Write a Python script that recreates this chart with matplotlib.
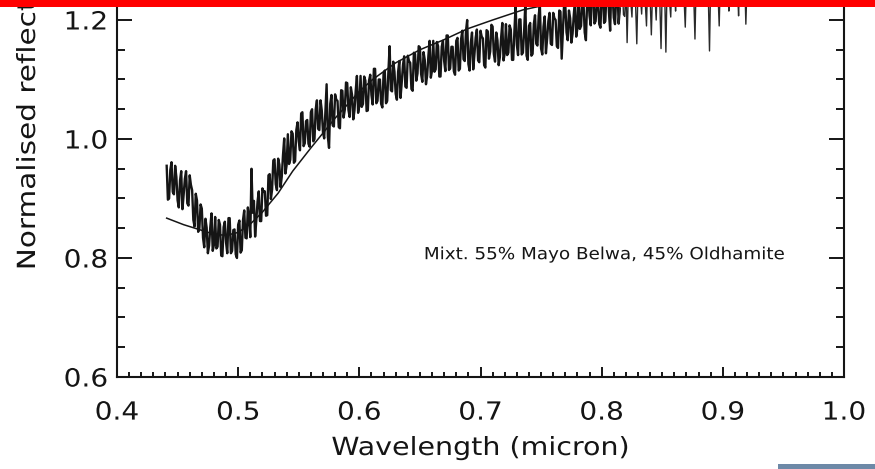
import numpy as np
import matplotlib
matplotlib.use("Agg")
import matplotlib.pyplot as plt
from matplotlib.patches import Rectangle
from matplotlib.patheffects import AbstractPathEffect
from matplotlib.transforms import Affine2D
from matplotlib.ticker import MultipleLocator, FormatStrFormatter

# ---- measured spectrum (normalised reflectance), sampled every 0.001 micron:
#      channels at 0.441, 0.443, ... and the interleaved ones at 0.442, 0.444, ...
wavelength_a = np.linspace(0.441, 0.919, 240)
wavelength_b = wavelength_a + 0.001
reflectance_a = [
    0.955, 0.900, 0.961, 0.907, 0.936, 0.885, 0.946, 0.906, 0.946, 0.888,
    0.923, 0.864, 0.908, 0.844, 0.890, 0.834, 0.866, 0.808, 0.852, 0.812,
    0.869, 0.819, 0.856, 0.803, 0.861, 0.808, 0.867, 0.812, 0.848, 0.800,
    0.863, 0.813, 0.880, 0.833, 0.870, 0.950, 0.896, 0.864, 0.912, 0.862,
    0.911, 0.871, 0.939, 0.899, 0.964, 0.924, 0.967, 0.919, 0.973, 0.942,
    1.008, 0.965, 1.009, 0.963, 1.028, 0.981, 1.045, 0.993, 1.032, 0.987,
    1.050, 1.000, 1.065, 1.015, 1.048, 1.001, 1.092, 0.985, 1.074, 1.021,
    1.066, 1.020, 1.082, 1.036, 1.095, 1.049, 1.087, 1.033, 1.081, 1.044,
    1.106, 1.059, 1.098, 1.048, 1.108, 1.058, 1.118, 1.064, 1.100, 1.053,
    1.115, 1.064, 1.156, 1.080, 1.113, 1.066, 1.131, 1.095, 1.139, 1.086,
    1.131, 1.084, 1.145, 1.098, 1.156, 1.109, 1.146, 1.092, 1.140, 1.103,
    1.165, 1.117, 1.156, 1.105, 1.165, 1.114, 1.174, 1.119, 1.155, 1.108,
    1.170, 1.118, 1.182, 1.131, 1.200, 1.115, 1.179, 1.142, 1.184, 1.129,
    1.172, 1.124, 1.183, 1.135, 1.192, 1.143, 1.179, 1.124, 1.170, 1.132,
    1.193, 1.145, 1.184, 1.133, 1.225, 1.141, 1.201, 1.145, 1.228, 1.133,
    1.195, 1.143, 1.208, 1.157, 1.226, 1.142, 1.206, 1.169, 1.212, 1.158,
    1.203, 1.156, 1.216, 1.135, 1.227, 1.179, 1.216, 1.162, 1.209, 1.172,
    1.237, 1.190, 1.230, 1.166, 1.241, 1.191, 1.252, 1.198, 1.234, 1.187,
    1.250, 1.198, 1.261, 1.182, 1.241, 1.193, 1.256, 1.219, 1.261, 1.206,
    1.162, 1.258, 1.205, 1.262, 1.160, 1.250, 1.210, 1.266, 1.190, 1.255,
    1.175, 1.262, 1.200, 1.270, 1.152, 1.258, 1.146, 1.265, 1.205, 1.272,
    1.215, 1.268, 1.225, 1.275, 1.188, 1.270, 1.230, 1.278, 1.168, 1.272,
    1.240, 1.282, 1.250, 1.276, 1.148, 1.280, 1.235, 1.285, 1.190, 1.278,
    1.250, 1.288, 1.215, 1.282, 1.245, 1.290, 1.207, 1.284, 1.260, 1.193,
]
reflectance_b = [
    0.898, 0.948, 0.911, 0.955, 0.897, 0.930, 0.882, 0.933, 0.892, 0.939,
    0.914, 0.853, 0.897, 0.850, 0.883, 0.818, 0.851, 0.821, 0.875, 0.822,
    0.816, 0.864, 0.804, 0.852, 0.826, 0.867, 0.808, 0.847, 0.806, 0.856,
    0.809, 0.864, 0.834, 0.885, 0.835, 0.876, 0.836, 0.895, 0.862, 0.917,
    0.912, 0.872, 0.941, 0.915, 0.966, 0.914, 0.957, 0.937, 1.001, 0.956,
    0.958, 1.013, 0.960, 1.015, 0.996, 1.043, 0.988, 1.030, 0.992, 1.045,
    0.996, 1.050, 1.017, 1.065, 1.011, 1.048, 1.004, 1.059, 1.023, 1.075,
    1.064, 1.018, 1.081, 1.049, 1.094, 1.037, 1.074, 1.048, 1.106, 1.056,
    1.054, 1.105, 1.047, 1.098, 1.074, 1.118, 1.060, 1.100, 1.059, 1.110,
    1.060, 1.114, 1.082, 1.130, 1.076, 1.113, 1.069, 1.124, 1.088, 1.140,
    1.128, 1.081, 1.143, 1.110, 1.154, 1.096, 1.133, 1.107, 1.165, 1.115,
    1.113, 1.163, 1.105, 1.155, 1.131, 1.174, 1.116, 1.155, 1.114, 1.165,
    1.115, 1.168, 1.134, 1.181, 1.126, 1.162, 1.117, 1.170, 1.132, 1.182,
    1.169, 1.120, 1.181, 1.147, 1.189, 1.130, 1.166, 1.138, 1.195, 1.144,
    1.141, 1.191, 1.133, 1.182, 1.158, 1.201, 1.142, 1.181, 1.140, 1.190,
    1.140, 1.193, 1.160, 1.207, 1.152, 1.189, 1.144, 1.198, 1.160, 1.212,
    1.200, 1.153, 1.214, 1.181, 1.225, 1.166, 1.203, 1.177, 1.234, 1.186,
    1.185, 1.236, 1.179, 1.230, 1.207, 1.251, 1.194, 1.234, 1.193, 1.245,
    1.195, 1.247, 1.213, 1.259, 1.204, 1.239, 1.194, 1.247, 1.209, 1.258,
    1.248, 1.232, 1.270, 1.226, 1.255, 1.240, 1.262, 1.228, 1.268, 1.236,
    1.250, 1.238, 1.266, 1.230, 1.258, 1.245, 1.262, 1.232, 1.270, 1.248,
    1.258, 1.242, 1.272, 1.236, 1.265, 1.250, 1.276, 1.240, 1.268, 1.255,
    1.262, 1.248, 1.278, 1.240, 1.270, 1.252, 1.282, 1.245, 1.275, 1.260,
    1.268, 1.250, 1.284, 1.242, 1.276, 1.255, 1.280, 1.248, 1.272, 1.262,
]

# ---- mixture model spectrum
model_wavelength = [0.441, 0.455, 0.466, 0.480, 0.490, 0.500, 0.510, 0.520,
                    0.533, 0.545, 0.560, 0.580, 0.600, 0.611, 0.630, 0.650,
                    0.670, 0.689, 0.710, 0.735, 0.760, 0.800, 0.850, 0.920]
model_reflectance = [0.867, 0.856, 0.849, 0.840, 0.838, 0.843, 0.857, 0.877,
                     0.909, 0.946, 0.985, 1.035, 1.080, 1.100, 1.128, 1.150,
                     1.167, 1.185, 1.200, 1.217, 1.228, 1.240, 1.250, 1.256]

x_limits = (0.4, 1.0)
y_limits = (0.6, 1.5)
x_label = "Wavelength (micron)"
y_label = "Normalised reflectance"
note = "Mixt. 55% Mayo Belwa, 45% Oldhamite"

INK = "#151515"
FINE_PEN_FROM = 0.815   # longer wavelengths are drawn with a finer pen


class WideText(AbstractPathEffect):
    """Widen glyphs horizontally about the centre of the text line."""

    def __init__(self, sx=1.12):
        super().__init__()
        self.sx = sx

    def draw_path(self, renderer, gc, tpath, affine, rgbFace=None):
        ext = tpath.get_extents()
        cx = 0.5 * (ext.x0 + ext.x1)
        stretch = Affine2D().translate(-cx, 0).scale(self.sx, 1.0).translate(cx, 0)
        renderer.draw_path(gc, tpath, stretch + affine, rgbFace)


plt.rcParams["font.family"] = ["DejaVu Sans"]

# merge both channel sets into one wavelength-ordered spectrum
wavelength = np.column_stack((wavelength_a, wavelength_b)).ravel()
reflectance = np.column_stack((reflectance_a, reflectance_b)).ravel()

fig = plt.figure(figsize=(8.75, 4.69), dpi=100)
fig.patch.set_facecolor("white")
ax = fig.add_axes([117 / 875, 92 / 469, 727 / 875, 535.5 / 469])

heavy = wavelength <= FINE_PEN_FROM
fine = wavelength >= FINE_PEN_FROM - 0.001
ax.plot(wavelength[heavy], reflectance[heavy], color=INK, lw=1.7)
ax.plot(wavelength[fine], reflectance[fine], color="#2a2a2a", lw=1.0)
ax.plot(model_wavelength, model_reflectance, color=INK, lw=1.1)

ax.set_xlim(*x_limits)
ax.set_ylim(*y_limits)

ax.xaxis.set_major_locator(MultipleLocator(0.1))
ax.xaxis.set_minor_locator(MultipleLocator(0.01))
ax.yaxis.set_major_locator(MultipleLocator(0.2))
ax.yaxis.set_minor_locator(MultipleLocator(0.05))
ax.xaxis.set_major_formatter(FormatStrFormatter("%.1f"))
ax.yaxis.set_major_formatter(FormatStrFormatter("%.1f"))

for side in ax.spines.values():
    side.set_linewidth(1.5)
    side.set_color(INK)

ax.tick_params(which="both", direction="in", top=True, right=True,
               color=INK, width=1.4, labelcolor=INK, labelsize=18)
ax.tick_params(axis="x", which="major", length=7.2, pad=17)
ax.tick_params(axis="x", which="minor", length=3.6)
ax.tick_params(axis="y", which="major", length=10.8, pad=8)
ax.tick_params(axis="y", which="minor", length=5.8)

ax.set_xlabel(x_label, fontsize=18, color=INK)
ax.xaxis.label.set_va("baseline")
ax.xaxis.set_label_coords(0.5, -78 / 535.5)

ax.set_ylabel(y_label, fontsize=18, color=INK)
ax.yaxis.label.set_va("center")
ax.yaxis.label.set_ha("center")
ax.yaxis.set_label_coords(-89 / 727, (377 - 99) / 535.5)

ax.text(0.8015, 0.798, note, fontsize=12, color=INK, ha="center",
        va="baseline", path_effects=[WideText(1.1)])

fig.canvas.draw()
for lbl in ax.get_xticklabels() + ax.get_yticklabels():
    lbl.set_path_effects([WideText(1.12)])
ax.xaxis.label.set_path_effects([WideText(1.14)])
ax.yaxis.label.set_path_effects([WideText(1.18)])

# page decorations: top banner and bottom-right tab
fig.add_artist(Rectangle((0, 1 - 7 / 469), 1, 7 / 469, transform=fig.transFigure,
                         facecolor="#ff0000", edgecolor="none", zorder=20))
fig.add_artist(Rectangle((778 / 875, 0), 97 / 875, 5 / 469, transform=fig.transFigure,
                         facecolor="#6d89a7", edgecolor="none", zorder=20))

fig.savefig("out.png", dpi=100)
